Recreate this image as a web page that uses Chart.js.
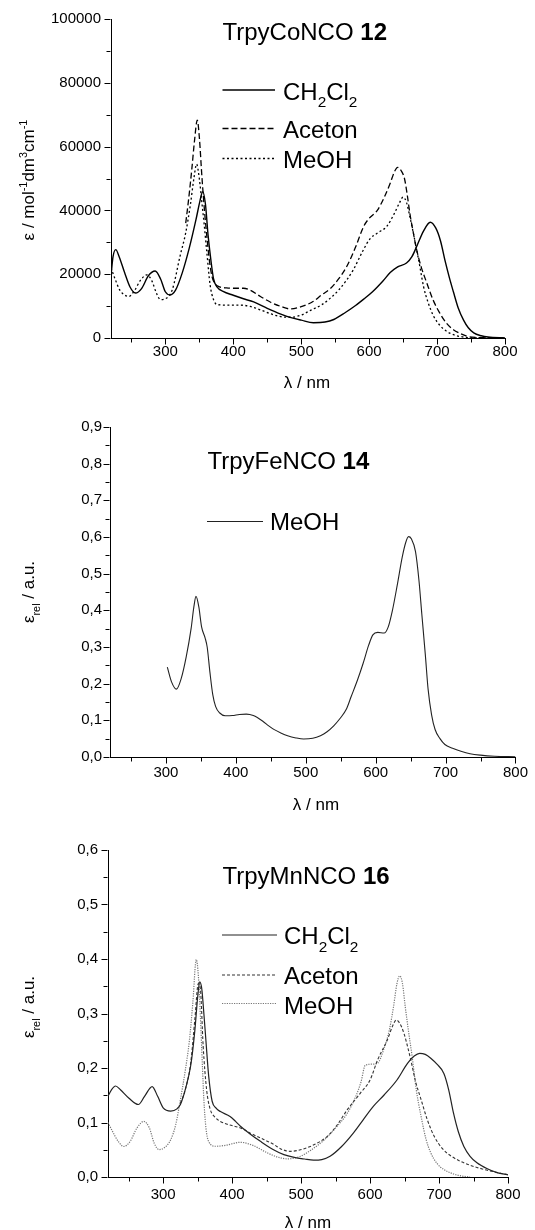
<!DOCTYPE html>
<html><head><meta charset="utf-8">
<script src="https://cdn.jsdelivr.net/npm/chart.js@4.4.1/dist/chart.umd.min.js"></script>
<style>
html,body{margin:0;padding:0;background:#fff;}
body{width:535px;height:1230px;position:relative;overflow:hidden;}
.box{position:absolute;left:0;width:535px;height:410px;}
canvas{display:block;}
</style></head><body>
<div class="box" style="top:0px"><canvas id="c1" width="535" height="410"></canvas></div>
<div class="box" style="top:410px"><canvas id="c2" width="535" height="410"></canvas></div>
<div class="box" style="top:820px"><canvas id="c3" width="535" height="410"></canvas></div>
<script>
// ---------- Chart 1: TrpyCoNCO 12 (epsilon / mol-1 dm3 cm-1) ----------
const coCH2Cl2_nm = [220,223,227,232,240,248,256,265,275,285,293,300,307,315,325,335,345,351,355,359,363,367,371,376,385,400,415,430,450,470,485,500,518,535,548,565,580,592,605,620,631,642,655,663,670,680,690,698,705,712,718,724,731,739,746,754,765,775,800];
const coCH2Cl2_eps = [19500,25500,27700,25500,20500,16000,14100,15500,19500,21000,18500,14500,13500,15000,20500,28000,37000,43000,45900,42000,32000,24500,18500,16000,14600,13400,12300,11300,9300,7500,6400,5600,4800,5000,5800,8000,10200,12200,14500,17800,20500,22300,23500,25500,28700,33500,36300,34500,30500,24000,19000,14500,9500,5600,3200,1600,700,300,0];
const coAceton_nm = [330,334,339,343,347,350,354,358,361,365,369,374,380,390,400,415,425,440,455,470,484,500,518,530,543,555,567,580,592,600,612,622,631,637,642,647,652,656,660,665,670,677,685,694,704,714,724,735,745,760,800];
const coAceton_eps = [36000,43000,53000,62000,68300,63000,50000,39000,32000,24000,19000,16800,16000,15700,15600,15600,15000,13000,11200,9900,9100,9800,11500,13500,15500,18500,22400,28500,35000,37500,40000,44000,48500,52000,53500,52500,50000,45000,39000,33000,27600,22000,17200,12000,7800,4600,2600,1300,500,150,0];
const coMeOH_nm = [220,226,233,240,246,255,263,273,280,287,293,300,310,322,330,337,342,346,350,354,357,361,366,371,376,390,410,425,440,455,470,484,500,515,530,543,555,567,577,590,601,613,626,637,645,650,655,660,665,670,675,680,687,695,704,714,726,739,760,800];
const coMeOH_eps = [22000,18500,15000,13500,13000,15000,18000,19800,18000,14000,12000,12300,15000,26000,33000,42000,50000,54500,50000,42000,36000,27000,16500,12000,10500,10300,10300,9900,8800,7600,6700,6500,7200,8800,10400,12500,15000,18200,21500,27000,31000,33000,35000,39000,42500,44200,42500,38000,33000,27600,22000,16200,11000,6800,4000,2100,900,300,0,0];
const coYTicks = [0,20000,40000,60000,80000,100000];

// ---------- Chart 2: TrpyFeNCO 14 (relative) ----------
const feMeOH_nm = [302,308,315,322,329,336,340,343,347,351,356,359,363,367,371,377,385,395,405,415,425,439,447,455,465,474,486,497,510,521,530,540,549,558,565,574,582,590,596,603,612,618,624,631,638,643,647,651,657,662,666,671,675,680,685,692,699,710,722,735,750,770,800];
const feMeOH_eps = [0.245,0.205,0.185,0.215,0.273,0.35,0.41,0.438,0.41,0.355,0.325,0.30,0.23,0.17,0.138,0.12,0.1125,0.113,0.116,0.117,0.113,0.097,0.085,0.0746,0.065,0.058,0.052,0.049,0.051,0.058,0.068,0.085,0.105,0.130,0.165,0.21,0.255,0.305,0.333,0.34,0.338,0.355,0.40,0.47,0.545,0.585,0.601,0.595,0.560,0.48,0.39,0.28,0.185,0.115,0.075,0.05,0.034,0.024,0.0157,0.009,0.005,0.002,0.0005];
const feYTicks = [0,0.1,0.2,0.3,0.4,0.5,0.6,0.7,0.8,0.9];

// ---------- Chart 3: TrpyMnNCO 16 (relative) ----------
const mnCH2Cl2_nm = [220,225,231,238,250,264,273,284,292,300,311,320,325,333,340,346,350,353,356,359,362,366,371,377,383,397,405,412,425,441,460,475,490,505,518,530,542,558,576,590,605,620,639,654,664,672,680,688,697,707,714,721,728,736,745,755,770,784,800];
const mnCH2Cl2_eps = [0.148,0.16,0.167,0.160,0.145,0.133,0.148,0.166,0.148,0.127,0.121,0.125,0.133,0.165,0.205,0.27,0.33,0.358,0.345,0.30,0.25,0.185,0.139,0.126,0.12,0.111,0.102,0.093,0.080,0.0655,0.05,0.041,0.036,0.033,0.031,0.032,0.038,0.055,0.081,0.105,0.130,0.150,0.178,0.208,0.222,0.227,0.225,0.218,0.207,0.19,0.16,0.117,0.083,0.056,0.038,0.026,0.015,0.008,0.004];
const mnAceton_nm = [325,332,340,346,351,354,358,363,368,375,383,395,412,427,441,460,470,484,499,515,538,552,567,586,600,611,625,633,638,643,649,659,666,674,683,693,705,718,742,766,785,800];
const mnAceton_eps = [0.135,0.16,0.21,0.29,0.355,0.345,0.24,0.16,0.125,0.11,0.102,0.096,0.09,0.08,0.0717,0.060,0.052,0.047,0.05,0.057,0.0746,0.095,0.1235,0.154,0.178,0.215,0.2515,0.278,0.288,0.282,0.264,0.215,0.175,0.142,0.105,0.0746,0.052,0.038,0.023,0.0137,0.008,0.004];
const mnMeOH_nm = [220,226,235,243,252,262,272,280,287,294,302,311,318,325,332,338,343,348,351,354,357,359,362,366,376,390,412,430,451,465,480,499,515,534,550,567,580,587,593,603,611,620,628,634,639,643,647,651,656,661,667,674,681,688,697,707,720,732,745];
const mnMeOH_eps = [0.10,0.085,0.065,0.056,0.065,0.09,0.102,0.09,0.062,0.0503,0.054,0.0686,0.095,0.142,0.195,0.25,0.32,0.399,0.37,0.294,0.2,0.142,0.09,0.065,0.0564,0.058,0.0637,0.058,0.0443,0.037,0.0333,0.038,0.05,0.0686,0.09,0.117,0.15,0.175,0.205,0.207,0.209,0.235,0.27,0.3125,0.355,0.369,0.355,0.3125,0.265,0.221,0.16,0.111,0.07,0.0443,0.025,0.0137,0.006,0.002,0];
const mnYTicks = [0,0.1,0.2,0.3,0.4,0.5,0.6];

const xMajorTicks = [300,400,500,600,700,800];
const xMinorTicks = [250,350,450,550,650,750];

const FONT = '"Liberation Sans", Arial, Helvetica, sans-serif';
const BIG = 24;

function pts(xs, ys){ return xs.map((x,i)=>({x:x, y:ys[i]})); }

function fontFor(type, size){
  const s = (type==='sub'||type==='sup') ? size*0.64 : size;
  return (type==='b' ? 'bold ' : '') + s.toFixed(2) + 'px ' + FONT;
}
function richWidth(ctx, parts, size){
  let w = 0;
  for (const [t,ty] of parts){ ctx.font = fontFor(ty,size); w += ctx.measureText(t).width; }
  return w;
}
function drawRich(ctx, parts, x, y, size, align){
  const w = richWidth(ctx, parts, size);
  let cx = align==='center' ? x - w/2 : x;
  ctx.textAlign = 'left'; ctx.textBaseline = 'alphabetic';
  for (const [t,ty] of parts){
    ctx.font = fontFor(ty,size);
    const dy = ty==='sub' ? size*0.33 : (ty==='sup' ? -size*0.42 : 0);
    ctx.fillText(t, cx, y+dy);
    cx += ctx.measureText(t).width;
  }
}

const decoPlugin = {
  id: 'deco',
  afterDraw(chart, args, o){
    const ctx = chart.ctx, a = chart.chartArea;
    const xs = chart.scales.x, ys = chart.scales.y;
    const off = o.offsetY;
    ctx.save();
    ctx.strokeStyle = '#000'; ctx.lineWidth = 1;
    ctx.beginPath();
    const bx = Math.round(a.bottom) + 0.5, lx = Math.round(a.left) - 0.5;
    for (const v of xMajorTicks){ const p = Math.round(xs.getPixelForValue(v))+0.5; ctx.moveTo(p,bx); ctx.lineTo(p,bx+6); }
    for (const v of xMinorTicks){ const p = Math.round(xs.getPixelForValue(v))+0.5; ctx.moveTo(p,bx); ctx.lineTo(p,bx+4); }
    for (let i=0;i<o.yMajor.length;i++){
      const v = o.yMajor[i];
      const p = Math.round(ys.getPixelForValue(v))+0.5; ctx.moveTo(lx,p); ctx.lineTo(lx-6,p);
      if (i < o.yMajor.length-1){
        const m = (v + o.yMajor[i+1])/2;
        const q = Math.round(ys.getPixelForValue(m))+0.5; ctx.moveTo(lx,q); ctx.lineTo(lx-4,q);
      }
    }
    ctx.stroke();
    ctx.fillStyle = '#000';
    // title
    drawRich(ctx, o.title, o.titleX, o.titleY - off, BIG, 'left');
    // legend
    for (const e of o.legend){
      const ds = chart.data.datasets[e.ds];
      ctx.save();
      ctx.strokeStyle = ds.borderColor; ctx.lineWidth = ds.borderWidth;
      ctx.setLineDash(ds.borderDash || []);
      ctx.beginPath(); ctx.moveTo(o.legX0, e.lineY - off); ctx.lineTo(o.legX1, e.lineY - off); ctx.stroke();
      ctx.restore();
      ctx.fillStyle = '#000';
      drawRich(ctx, e.parts, o.legTextX, e.baseY - off, BIG, 'left');
    }
    // axis titles
    drawRich(ctx, [['\u03bb / nm','n']], o.xTitleX, o.xTitleY - off, 17, 'center');
    ctx.save();
    ctx.translate(o.yTitleX, o.yTitleY - off);
    ctx.rotate(-Math.PI/2);
    drawRich(ctx, o.yTitle, 0, 0, 17, 'center');
    ctx.restore();
    ctx.restore();
  }
};

function makeChart(id, cfg){
  const fmt = cfg.comma ? (v => v.toFixed(1).replace('.', ',')) : (v => String(v));
  return new Chart(document.getElementById(id), {
    type: 'line',
    data: { datasets: cfg.datasets.map(d => ({
      label: d.label, data: d.data, borderColor: d.color, borderWidth: d.width,
      borderDash: d.dash, pointRadius: 0, fill: false, cubicInterpolationMode: 'monotone'
    })) },
    options: {
      responsive: false, animation: false, events: [],
      layout: { padding: cfg.pad },
      plugins: { legend: {display:false}, title:{display:false}, tooltip:{enabled:false}, deco: cfg.deco },
      scales: {
        x: {
          type: 'linear', min: 220, max: 800,
          grid: { display: false, drawTicks: false },
          border: { display: true, color: '#000', width: 1 },
          ticks: { color: '#000', font: { family: FONT, size: 15 }, padding: cfg.xPad, autoSkip: false, maxRotation: 0, callback: v => String(v) },
          afterBuildTicks: s => { s.ticks = xMajorTicks.map(v => ({value: v})); },
          afterFit: s => { s.height = cfg.xH; }
        },
        y: {
          type: 'linear', min: cfg.yMin, max: cfg.yMax,
          grid: { display: false, drawTicks: false },
          border: { display: true, color: '#000', width: 1 },
          ticks: { color: '#000', font: { family: FONT, size: 15 }, padding: cfg.yPad, autoSkip: false, callback: fmt },
          afterBuildTicks: s => { s.ticks = cfg.yTicks.map(v => ({value: v})); },
          afterFit: s => { s.width = cfg.yW; }
        }
      }
    },
    plugins: [decoPlugin]
  });
}

makeChart('c1', {
  yMin: 0, yMax: 100000, yTicks: coYTicks, comma: false,
  pad: { left: 0, top: 19, right: 30, bottom: 22 }, xH: 50, yW: 111, xPad: 5, yPad: 10,
  datasets: [
    { label: 'CH2Cl2', data: pts(coCH2Cl2_nm, coCH2Cl2_eps), color: '#000', width: 1.4, dash: [] },
    { label: 'Aceton', data: pts(coAceton_nm, coAceton_eps), color: '#000', width: 1.3, dash: [6,3] },
    { label: 'MeOH', data: pts(coMeOH_nm, coMeOH_eps), color: '#000', width: 1.3, dash: [2,2.5] }
  ],
  deco: {
    offsetY: 0, yMajor: coYTicks,
    title: [['TrpyCoNCO ','n'],['12','b']], titleX: 222.5, titleY: 39.5,
    legX0: 222.5, legX1: 275, legTextX: 283,
    legend: [
      { ds: 0, lineY: 90, baseY: 99.5, parts: [['CH','n'],['2','sub'],['Cl','n'],['2','sub']] },
      { ds: 1, lineY: 128.5, baseY: 137.5, parts: [['Aceton','n']] },
      { ds: 2, lineY: 158.5, baseY: 167.5, parts: [['MeOH','n']] }
    ],
    xTitleX: 307, xTitleY: 388,
    yTitleX: 34, yTitleY: 180,
    yTitle: [['\u03b5 / mol','n'],['-1','sup'],['dm','n'],['3','sup'],['cm','n'],['-1','sup']]
  }
});

makeChart('c2', {
  yMin: 0, yMax: 0.9, yTicks: feYTicks, comma: true,
  pad: { left: 0, top: 16, right: 13, bottom: 13 }, xH: 50, yW: 110, xPad: 7, yPad: 8,
  datasets: [
    { label: 'MeOH', data: pts(feMeOH_nm, feMeOH_eps), color: '#222', width: 1.1, dash: [] }
  ],
  deco: {
    offsetY: 410, yMajor: feYTicks,
    title: [['TrpyFeNCO ','n'],['14','b']], titleX: 207.5, titleY: 468.5,
    legX0: 207, legX1: 263, legTextX: 270,
    legend: [
      { ds: 0, lineY: 521.5, baseY: 529.5, parts: [['MeOH','n']] }
    ],
    xTitleX: 316, xTitleY: 810,
    yTitleX: 34, yTitleY: 592,
    yTitle: [['\u03b5','n'],['rel','sub'],[' / a.u.','n']]
  }
});

makeChart('c3', {
  yMin: 0, yMax: 0.6, yTicks: mnYTicks, comma: true,
  pad: { left: 0, top: 30, right: 27, bottom: 8 }, xH: 45, yW: 108, xPad: 9, yPad: 10,
  datasets: [
    { label: 'CH2Cl2', data: pts(mnCH2Cl2_nm, mnCH2Cl2_eps), color: '#222', width: 1.2, dash: [] },
    { label: 'Aceton', data: pts(mnAceton_nm, mnAceton_eps), color: '#333', width: 1.1, dash: [3,2] },
    { label: 'MeOH', data: pts(mnMeOH_nm, mnMeOH_eps), color: '#777', width: 1.2, dash: [1.2,1.2] }
  ],
  deco: {
    offsetY: 820, yMajor: mnYTicks,
    title: [['TrpyMnNCO ','n'],['16','b']], titleX: 222.5, titleY: 883.5,
    legX0: 222, legX1: 277, legTextX: 284,
    legend: [
      { ds: 0, lineY: 935, baseY: 944, parts: [['CH','n'],['2','sub'],['Cl','n'],['2','sub']] },
      { ds: 1, lineY: 975, baseY: 983.5, parts: [['Aceton','n']] },
      { ds: 2, lineY: 1003.5, baseY: 1013.5, parts: [['MeOH','n']] }
    ],
    xTitleX: 308, xTitleY: 1228,
    yTitleX: 34, yTitleY: 1007,
    yTitle: [['\u03b5','n'],['rel','sub'],[' / a.u.','n']]
  }
});
</script>
</body></html>
